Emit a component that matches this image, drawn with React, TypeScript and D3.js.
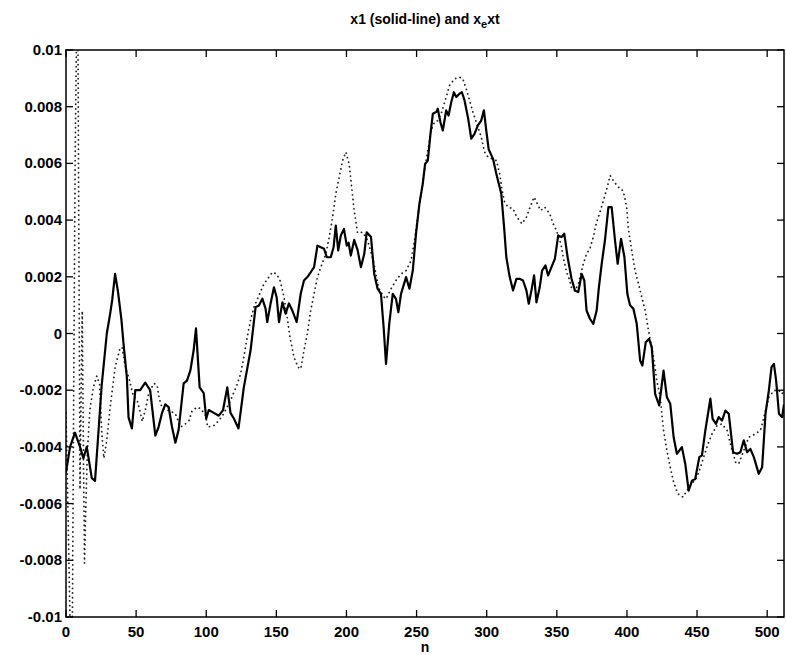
import React from "react";
import * as d3 from "d3";

const solidN = [0,2.9,6.4,10,12.4,14.8,18.4,20.7,23.1,25.5,29.1,31.5,33,35,37,39.5,41,43.4,44.6,47,49.4,52.9,56.5,60,63.7,66,68.5,70.8,73.2,75.6,78,80.3,83.9,86.3,88.7,91,92.7,95.3,98.2,100,101.8,105.4,109,112,115,117.3,119.7,123,126.8,131.6,135.2,137.6,140,142.3,143.5,145.9,148.3,150.2,151.9,154.3,156.6,159,161.4,164.5,167.4,169.7,172.1,174.5,176.9,179.3,181.7,184,186,188.8,190.8,192.4,194.1,196,198.2,200.2,201.5,203.1,205.5,207.9,210.3,212.7,214.4,217.5,219.8,222.2,224.6,226.5,228.2,230.5,233,235.3,237,238.9,242.5,244.9,247.3,249.6,252,254.4,256.1,258,259.9,261.6,264,265.1,267,268.7,271.1,272.8,274.7,276.6,278.3,280.6,282.3,284.2,286.6,289,291.3,293.7,296.1,298,299.7,301.4,304.5,306.9,310.4,312.4,314,316.4,318.8,321.2,323.5,325.9,328.3,330,331.9,333.8,335.5,337.8,339.5,341.9,343.8,346.2,348.6,351,353.4,355.3,357.7,360.5,362.9,365.3,367.7,369.6,371.2,373.6,376,378.4,380,382,384.3,386.8,389.1,391.5,393.4,395.8,398.2,400.3,402.2,404.6,407,409.4,411,413.4,415.8,417.7,420.1,423,426.1,428.5,430.9,433.3,435.6,439.2,441.6,444,446.4,448.7,451.6,453.5,455.9,459.5,461.1,463.5,465.4,467.8,470.2,472.6,475.7,478.5,480.9,483.3,485.7,488,490.5,494,496.4,498.8,501.2,503.1,504.8,506.4,508.4,510.7,512];
const solidV = [-0.0049,-0.004,-0.0035,-0.004,-0.0044,-0.004,-0.0051,-0.0052,-0.0035,-0.0018,0,0.0007,0.0012,0.0021,0.0015,0.0005,-0.00035,-0.00155,-0.00296,-0.00335,-0.002,-0.002,-0.00173,-0.002,-0.0036,-0.0033,-0.0028,-0.0025,-0.0026,-0.0033,-0.00385,-0.0034,-0.00176,-0.00166,-0.0013,-0.0006,0.00018,-0.0019,-0.0021,-0.003,-0.0027,-0.0028,-0.0029,-0.0027,-0.0019,-0.0028,-0.003,-0.00335,-0.0019,-0.0006,0.00093,0.00099,0.00123,0.00088,0.0004,0.00106,0.00163,0.00128,0.0004,0.0011,0.0007,0.00106,0.00081,0.0004,0.00141,0.00187,0.00199,0.00216,0.00234,0.0031,0.00304,0.00299,0.00269,0.00269,0.00304,0.00381,0.00293,0.00346,0.00369,0.0031,0.0032,0.00275,0.0033,0.00295,0.00234,0.00281,0.00357,0.0034,0.0021,0.00158,0.0014,0.00022,-0.00107,0.00034,0.0014,0.00122,0.00075,0.0014,0.00199,0.00158,0.00222,0.00352,0.00457,0.00528,0.00599,0.0061,0.00704,0.00775,0.00781,0.00793,0.00745,0.00716,0.00787,0.00769,0.00816,0.00851,0.00834,0.00846,0.00851,0.00822,0.00763,0.00687,0.00704,0.00734,0.00751,0.00787,0.00716,0.0065,0.00616,0.00563,0.00493,0.00375,0.00269,0.00199,0.00152,0.00193,0.00193,0.00187,0.00152,0.00105,0.00152,0.00205,0.0011,0.00163,0.00222,0.0024,0.00205,0.00234,0.00263,0.00346,0.0034,0.00352,0.00269,0.00193,0.00152,0.00146,0.0021,0.00187,0.00081,0.00052,0.00034,0.00081,0.00163,0.00246,0.00328,0.00446,0.00446,0.00328,0.00246,0.00334,0.00269,0.0014,0.001,0.00087,0.00034,-0.00095,-0.00113,-0.00031,-0.00019,-0.00048,-0.00213,-0.00254,-0.00131,-0.00225,-0.00248,-0.00366,-0.00424,-0.00401,-0.0046,-0.00554,-0.00519,-0.00513,-0.00436,-0.0043,-0.00342,-0.0023,-0.00301,-0.00319,-0.00295,-0.00307,-0.00272,-0.00283,-0.00419,-0.00424,-0.00419,-0.00377,-0.00419,-0.00407,-0.00436,-0.00495,-0.00472,-0.00283,-0.00201,-0.00119,-0.00107,-0.00166,-0.00283,-0.00295,-0.0025];

const dotN = [0,1.5,3,4.5,5.5,6.5,7.5,8.5,9.3,10,10.8,11.6,12.4,13.2,14.2,15.2,17,19.5,22,24,25.5,27,29,31.5,35,38.6,40,42.4,45,48,51,53,54.4,57,59,62.7,65,66.3,68.7,73.5,78,81.8,85.3,87.7,90,93.7,96,99.6,101,105.4,109,112.5,117.3,122,124.5,126.8,129.2,131.6,134,137.6,141.1,144.7,147.1,150.2,152.6,155,157.4,159.7,162.6,165.5,167.4,169.7,172.1,174.5,176.9,179.3,181.7,185.3,187.7,190.1,192.4,194.8,197.2,199.6,201.9,203.6,205.5,207.9,211.5,215,219,223,226.5,228.2,231.8,235.3,238.9,242.5,246,248.5,250.8,253.2,255.6,258,260.4,262.7,265.1,267.5,271.1,273.5,277,280.6,283,285.4,287.8,290.2,292.6,296.1,298.5,301,306.9,309.3,311,312.8,315.2,318.8,321.6,325.2,328.3,331.4,333.8,336.2,338.5,341.4,345,347.4,349.8,352.9,354.6,357,359.3,360.5,363,365.3,368.9,371.2,373.6,376,378.4,380.8,383.2,385.6,388,391,393.9,396.3,398.2,399.9,401,403.4,405.8,409.4,413,415.4,419,421.3,423.7,424.9,426.1,428.5,430.9,433.3,436.3,439.9,442.8,446.4,449.9,452.4,454.7,457.8,460.7,464.2,467.8,471.4,473.8,477.4,479.7,483.3,486.9,491.6,495.2,498.8,501.2,504.8,508.4,510.7,512];
const dotV = [-0.0028,-0.0065,-0.0105,-0.0105,-0.002,0.006,0.0105,0.0105,0.002,-0.0055,-0.002,0.0008,-0.004,-0.0081,-0.006,-0.0042,-0.0027,-0.0019,-0.0015,-0.0018,-0.0035,-0.0044,-0.0038,-0.0026,-0.0012,-0.0005,-0.0005,-0.0012,-0.0016,-0.0022,-0.0024,-0.0028,-0.0031,-0.0026,-0.0021,-0.00176,-0.00183,-0.00225,-0.00265,-0.00272,-0.00283,-0.0033,-0.00318,-0.00307,-0.00272,-0.0026,-0.00265,-0.0029,-0.0033,-0.00325,-0.00307,-0.00283,-0.00236,-0.0018,-0.00142,-0.00084,-0.00013,0.00046,0.00093,0.00134,0.00175,0.00199,0.00216,0.0021,0.00187,0.0014,0.0007,-0.00013,-0.00084,-0.00119,-0.00125,-0.0006,0,0.00081,0.0014,0.00199,0.00234,0.00281,0.0034,0.0041,0.00493,0.00551,0.0061,0.0064,0.00599,0.0052,0.00434,0.00355,0.00357,0.0033,0.0026,0.0016,0.0013,0.00122,0.00158,0.00187,0.0021,0.00222,0.00257,0.00328,0.0041,0.00493,0.00575,0.00646,0.00716,0.00745,0.00751,0.00775,0.00834,0.00875,0.00898,0.00904,0.00898,0.00863,0.00822,0.00781,0.00745,0.00693,0.0064,0.00622,0.0061,0.00563,0.00504,0.00463,0.00446,0.0044,0.0041,0.00387,0.0041,0.00452,0.00481,0.00457,0.00434,0.00446,0.00422,0.00387,0.00363,0.00316,0.00269,0.00216,0.00187,0.0016,0.0015,0.00175,0.00246,0.00281,0.00299,0.0034,0.00393,0.00428,0.00469,0.0051,0.00557,0.00534,0.00516,0.0051,0.00487,0.0044,0.0037,0.00293,0.00222,0.00152,0.00081,0.0001,-0.00084,-0.00166,-0.00225,-0.00283,-0.00342,-0.00413,-0.00472,-0.00525,-0.00565,-0.00577,-0.00554,-0.0053,-0.00507,-0.00472,-0.00436,-0.00389,-0.00354,-0.00325,-0.00319,-0.00342,-0.00389,-0.00454,-0.0046,-0.00413,-0.00366,-0.00354,-0.00342,-0.00272,-0.00225,-0.00201,-0.00201,-0.00213,-0.002];

const xTicks = [0, 50, 100, 150, 200, 250, 300, 350, 400, 450, 500];
const yTicks = [0.01, 0.008, 0.006, 0.004, 0.002, 0, -0.002, -0.004, -0.006, -0.008, -0.01];
const yTickLabels = ["0.01", "0.008", "0.006", "0.004", "0.002", "0", "-0.002", "-0.004", "-0.006", "-0.008", "-0.01"];

const W = 786, H = 655;
const L = 66, R = 784, T = 50, B = 617;
const FONT = "'Liberation Sans', Arial, Helvetica, sans-serif";

export default function App() {
  const x = d3.scaleLinear().domain([0, 512]).range([L, R]);
  const y = d3.scaleLinear().domain([-0.01, 0.01]).range([B, T]);
  const solid = d3.line<number>().x((_, i) => x(solidN[i])).y((v) => y(v))(solidV) || "";
  const dotted = d3.line<number>().x((_, i) => x(dotN[i])).y((v) => y(v))(dotV) || "";
  const tl = 7;
  return (
    <svg width={W} height={H} style={{ position: "absolute", left: 0, top: 0, background: "#fff" }} fontFamily={FONT}>
      <defs>
        <clipPath id="plotclip">
          <rect x={L} y={T} width={R - L} height={B - T} />
        </clipPath>
      </defs>
      <rect x={0} y={0} width={W} height={H} fill="#fff" />
      <g clipPath="url(#plotclip)">
        <path d={dotted} fill="none" stroke="#222" strokeWidth={1.8} strokeDasharray="0.1 4.6" strokeLinecap="round" />
        <path d={solid} fill="none" stroke="#000" strokeWidth={2.2} strokeLinejoin="round" />
      </g>
      <rect x={L} y={T} width={R - L} height={B - T} fill="none" stroke="#000" strokeWidth={1.5} />
      {xTicks.map((t) => (
        <g key={"x" + t}>
          <line x1={x(t)} x2={x(t)} y1={B} y2={B - tl} stroke="#000" strokeWidth={1.3} />
          <line x1={x(t)} x2={x(t)} y1={T} y2={T + tl} stroke="#000" strokeWidth={1.3} />
          <text x={x(t)} y={B + 20} textAnchor="middle" fontSize={15} fontWeight="bold">{t}</text>
        </g>
      ))}
      {yTicks.map((t, i) => (
        <g key={"y" + i}>
          <line x1={L} x2={L + tl} y1={y(t)} y2={y(t)} stroke="#000" strokeWidth={1.3} />
          <line x1={R} x2={R - tl} y1={y(t)} y2={y(t)} stroke="#000" strokeWidth={1.3} />
          <text x={L - 4} y={y(t) + 5} textAnchor="end" fontSize={15} fontWeight="bold">{yTickLabels[i]}</text>
        </g>
      ))}
      <text x={(L + R) / 2} y={24} textAnchor="middle" fontSize={14} fontWeight="bold">
        x1 (solid-line) and x<tspan dy={4} fontSize={11}>e</tspan><tspan dy={-4}>xt</tspan>
      </text>
      <text x={(L + R) / 2} y={652} textAnchor="middle" fontSize={14} fontWeight="bold">n</text>
    </svg>
  );
}
